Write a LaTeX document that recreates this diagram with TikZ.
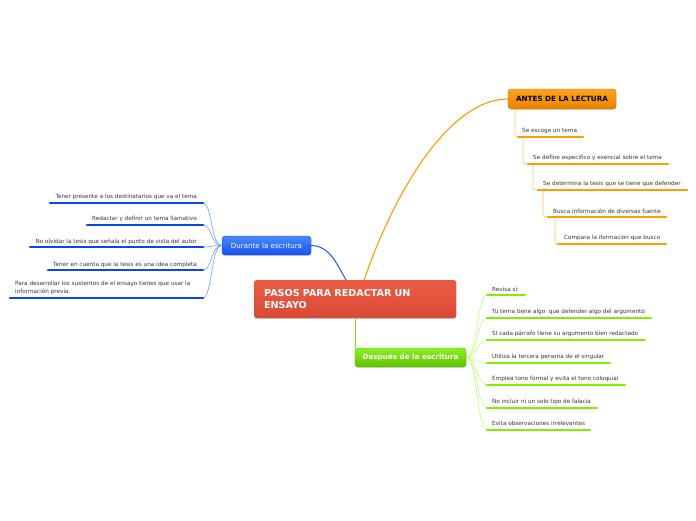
\documentclass[tikz,border=0pt]{standalone}
\usepackage{fontspec}
\setmainfont{DejaVu Sans}
\usetikzlibrary{shadows}
\definecolor{redtop}{HTML}{EE5B45}
\definecolor{redbot}{HTML}{D84A34}
\definecolor{ortop}{HTML}{FFA521}
\definecolor{orbot}{HTML}{E88100}
\definecolor{orline}{HTML}{FF9C00}
\definecolor{orlight}{HTML}{FFC060}
\definecolor{bltop}{HTML}{4C88FF}
\definecolor{blbot}{HTML}{1651EA}
\definecolor{blline}{HTML}{0A46E8}
\definecolor{bllight}{HTML}{6E9EFF}
\definecolor{grtop}{HTML}{8EF026}
\definecolor{grbot}{HTML}{5DC200}
\definecolor{grline}{HTML}{80F000}
\definecolor{grmain}{HTML}{78E010}
\definecolor{grlight}{HTML}{C0FF80}
\definecolor{txt}{HTML}{333333}
\begin{document}
\begin{tikzpicture}[x=1pt,y=-1pt,
  boxbase/.style={rounded corners=3pt, inner sep=0pt, drop shadow={opacity=0.25, shadow xshift=0.6pt, shadow yshift=-1pt}},
  mainbox/.style={boxbase, top color=redtop, bottom color=redbot, draw=redbot!80!black, line width=0.2pt, text=white, font=\fontsize{9.6}{11.5}\selectfont\bfseries, align=left},
  orbox/.style={boxbase, top color=ortop, bottom color=orbot, draw=orbot!85!black, line width=0.3pt, text=black, font=\fontsize{7.2}{8}\selectfont\bfseries},
  blbox/.style={boxbase, top color=bltop, bottom color=blbot, draw=blbot!85!black, line width=0.3pt, text=white, font=\fontsize{7.1}{8}\selectfont},
  grbox/.style={boxbase, top color=grtop, bottom color=grbot, draw=grbot!85!black, line width=0.3pt, text=white, font=\fontsize{7.2}{8}\selectfont\bfseries},
  leaf/.style={inner sep=0pt, text=txt, font=\fontsize{5.7}{8}\selectfont},
  uline/.style={line width=2.6pt, line cap=round},
  thin/.style={line width=0.6pt},
]
\useasboundingbox (0,0) rectangle (696,520);

% main boxes
\node[mainbox, text width=182pt, minimum height=38pt, inner xsep=10pt, anchor=north west] (c) at (254,280) {PASOS PARA REDACTAR UN\\ENSAYO};
\node[orbox, minimum width=108pt, minimum height=20pt] (antes) at (562,99) {ANTES DE LA LECTURA};
\node[blbox, minimum width=89pt, minimum height=19pt] (durante) at (266.5,245.5) {Durante la escritura};
\node[grbox, minimum width=111pt, minimum height=19pt] (despues) at (410.5,357.5) {Después de la escritura};

% main connectors
\draw[orline, line width=1.1pt] ([xshift=9pt]c.north) .. controls (395,190) and (450,99) .. (antes.west);
\draw[blline, line width=0.9pt] (durante.east) .. controls (330,246) and (336,263) .. ([xshift=-9pt]c.north);
\draw[grmain, line width=1.1pt] (c.south) -- (c.south |- despues.north);

% ---------- orange branch (chain) ----------
\node[leaf, anchor=base west] (o1) at (522,132) {Se escoge un tema};
\node[leaf, anchor=base west] (o2) at (533,159) {Se define especifico y esencial sobre el tema};
\node[leaf, anchor=base west] (o3) at (543,185) {Se determina la tesis que se tiene que defender};
\node[leaf, anchor=base west] (o4) at (553,213) {Busca información de diversas fuente};
\node[leaf, anchor=base west] (o5) at (564,239) {Compara la iformacion que busco};
\coordinate (o0b) at (515,109);
\coordinate (o1s) at (518,137); \coordinate (o1e) at (583,137); \coordinate (o1b) at (523,137);
\coordinate (o2s) at (528,164); \coordinate (o2e) at (668,164); \coordinate (o2b) at (533,164);
\coordinate (o3s) at (538,190); \coordinate (o3e) at (687,190); \coordinate (o3b) at (543,190);
\coordinate (o4s) at (548,217); \coordinate (o4e) at (666,217); \coordinate (o4b) at (555,217);
\coordinate (o5s) at (558,244); \coordinate (o5e) at (666,244);
\draw[orlight, thin] (o0b) -- ([yshift=6pt]o0b |- o1s) .. controls (o0b |- o1s) .. (o1s);
\draw[orlight, thin] (o1b) -- ([yshift=6pt]o1b |- o2s) .. controls (o1b |- o2s) .. (o2s);
\draw[orlight, thin] (o2b) -- ([yshift=6pt]o2b |- o3s) .. controls (o2b |- o3s) .. (o3s);
\draw[orlight, thin] (o3b) -- ([yshift=6pt]o3b |- o4s) .. controls (o3b |- o4s) .. (o4s);
\draw[orlight, thin] (o4b) -- ([yshift=3pt]o4b |- o5s) .. controls (o4b |- o5s) .. (o5s);
\foreach \i in {1,...,5} { \draw[orline, uline] (o\i s) -- (o\i e); }

% ---------- blue branch ----------
\node[leaf, anchor=base east] (b1) at (197,198) {Tener presente a los destinatarios que va el tema};
\node[leaf, anchor=base east] (b2) at (197,220) {Redactar y definir un tema llamativo};
\node[leaf, anchor=base east] (b3) at (197,243) {No olvidar la tesis que señala el punto de vista del autor};
\node[leaf, anchor=base east] (b4) at (197,266) {Tener en cuenta que la tesis es una idea completa};
\node[leaf, anchor=north west, align=left] (b5) at (15,281) {Para desarrollar los sustentos de el ensayo tienes que usar la\\información previa.};
\coordinate (b1s) at (50,203); \coordinate (b1e) at (203,203);
\coordinate (b2s) at (87,225); \coordinate (b2e) at (203,225);
\coordinate (b3s) at (30,247); \coordinate (b3e) at (203,247);
\coordinate (b4s) at (48,270); \coordinate (b4e) at (203,270);
\coordinate (b5s) at (10,298); \coordinate (b5e) at (203,298);
\foreach \i in {1,...,5} {
  \draw[bllight, thin] (durante.west) .. controls ([xshift=-11pt]durante.west) and ([xshift=9pt]b\i e) .. (b\i e);
}
\foreach \i in {1,...,5} { \draw[blline, uline] (b\i s) -- (b\i e); }

% ---------- green branch ----------
\node[leaf, anchor=base west] (g1) at (492,291) {Revisa si:};
\node[leaf, anchor=base west] (g2) at (492,313) {Tu tema tiene algo\ \ que defender algo del argumento};
\node[leaf, anchor=base west] (g3) at (492,335) {SI cada párrafo tiene su argumento bien redactado};
\node[leaf, anchor=base west] (g4) at (492,358) {Utiliza la tercera persona de el singular};
\node[leaf, anchor=base west] (g5) at (492,380) {Emplea tono formal y evita el tono coloquial};
\node[leaf, anchor=base west] (g6) at (492,403) {No incluir ni un solo tipo de falacia};
\node[leaf, anchor=base west] (g7) at (492,425) {Evita observaciones irrelevantes};
\coordinate (g1s) at (487,295); \coordinate (g1e) at (525,295);
\coordinate (g2s) at (487,318); \coordinate (g2e) at (651,318);
\coordinate (g3s) at (487,340); \coordinate (g3e) at (645,340);
\coordinate (g4s) at (487,363); \coordinate (g4e) at (610,363);
\coordinate (g5s) at (487,385); \coordinate (g5e) at (625,385);
\coordinate (g6s) at (487,408); \coordinate (g6e) at (597,408);
\coordinate (g7s) at (487,430); \coordinate (g7e) at (590,430);
\foreach \i in {1,...,7} {
  \draw[grlight, thin] (despues.east) .. controls ([xshift=11pt]despues.east) and ([xshift=-10pt]g\i s) .. (g\i s);
}
\foreach \i in {1,...,7} { \draw[grline, uline] (g\i s) -- (g\i e); }
\end{tikzpicture}
\end{document}
